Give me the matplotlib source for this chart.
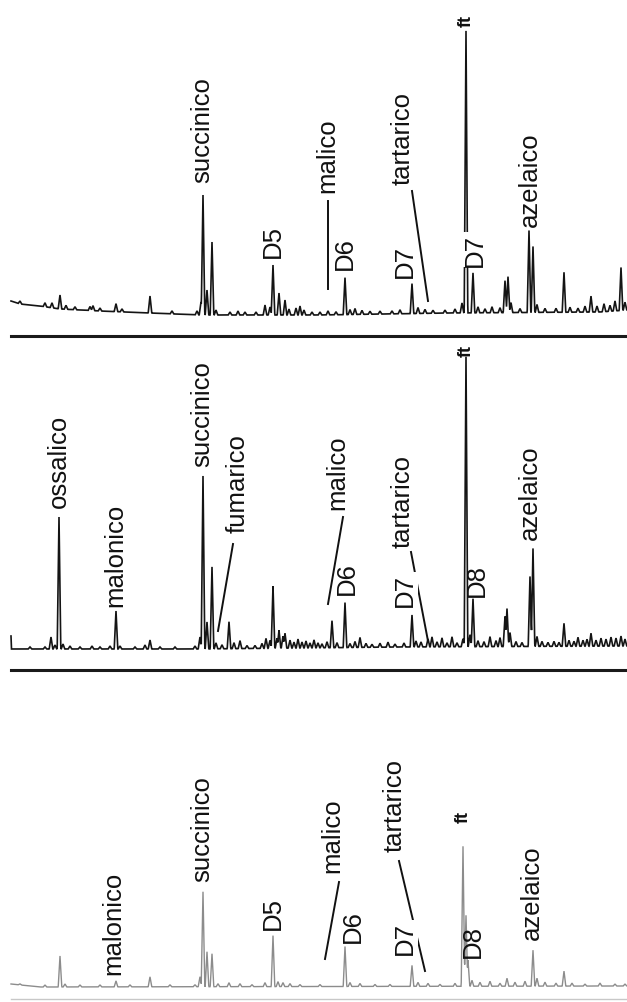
"""Three stacked GC traces (dicarboxylic acids), labels rotated like the original scan."""
import numpy as np
import matplotlib; matplotlib.use("Agg")
import matplotlib.pyplot as plt

plt.rcParams["font.family"] = ["Liberation Sans", "DejaVu Sans"]

# ---- data: peak position (scan) and peak height (intensity, a.u.) ----
top_pos = [20, 45, 52, 60, 66, 75, 90, 93, 100, 116, 122, 150, 172, 197, 201, 203, 207, 212, 216,
           230, 238, 245, 256, 265, 270, 273, 279, 285, 289, 296, 300, 304, 312, 320, 328, 336,
           345, 350, 355, 362, 370, 380, 392, 400, 412, 418, 425, 433, 445, 455, 462, 466, 473,
           478, 485, 492, 500, 505, 508, 511, 520, 529, 533, 537, 545, 556, 564, 570, 578,
           585, 591, 597, 604, 610, 615, 621, 625]
top_int = [3, 4, 5, 14, 4, 3, 4, 5, 3, 8, 3, 17, 3, 4, 13, 120, 25, 73, 5,
           3, 4, 3, 3, 10, 8, 50, 22, 15, 6, 7, 9, 5, 3, 3, 4, 3,
           37, 5, 6, 4, 3, 3, 3, 4, 30, 6, 4, 3, 3, 4, 10, 282, 40,
           6, 4, 6, 5, 32, 36, 10, 4, 82, 66, 8, 4, 4, 40, 5, 4,
           6, 16, 6, 8, 6, 10, 43, 8]
top_base_x = [11, 20, 40, 60, 100, 150, 200, 320, 450, 600, 627]
top_base_y = [13, 10, 8, 5, 3, 1, -1, -1, 1, 2, 4]

mid_pos = [30, 45, 51, 55, 59, 63, 70, 80, 92, 100, 110, 116, 120, 135, 145, 150, 160, 175, 195,
           200, 203, 207, 212, 216, 222, 229, 234, 240, 247, 255, 262, 266, 270, 273, 277, 279,
           283, 285, 290, 294, 298, 302, 306, 310, 314, 318, 322, 327, 332, 337, 345, 350, 355,
           360, 366, 372, 380, 388, 395, 404, 412, 416, 421, 428, 432, 437, 442, 447, 452, 457,
           463, 466, 470, 473, 478, 484, 490, 496, 500, 505, 507, 510, 516, 522, 530, 533, 537,
           542, 548, 554, 559, 564, 569, 574, 578, 583, 587, 591, 596, 601, 606, 611, 616, 621, 625]
mid_int = [2, 2, 12, 4, 132, 5, 3, 2, 3, 2, 3, 38, 3, 2, 4, 9, 2, 2, 3,
           12, 173, 27, 82, 6, 4, 27, 6, 8, 3, 3, 5, 10, 8, 62, 10, 18,
           12, 15, 8, 6, 9, 6, 7, 5, 8, 5, 4, 6, 27, 5, 45, 4, 6,
           10, 4, 3, 4, 5, 3, 4, 32, 6, 5, 8, 10, 5, 9, 4, 10, 4,
           8, 290, 12, 48, 6, 5, 10, 6, 9, 30, 38, 14, 5, 4, 70, 98, 10,
           5, 4, 5, 4, 23, 6, 5, 9, 6, 7, 13, 6, 8, 7, 9, 8, 10, 7]
mid_base_x = [11, 11.5, 200, 400, 627]
mid_base_y = [13, 0, 0, 2, 3]

bot_pos = [20, 45, 60, 65, 80, 100, 116, 130, 150, 170, 195, 200, 203, 207, 212, 218, 229, 240,
           252, 265, 273, 278, 283, 290, 300, 320, 345, 350, 360, 375, 390, 412, 418, 428, 440,
           455, 463, 466, 468, 472, 480, 490, 500, 507, 515, 525, 533, 537, 545, 556, 564, 572,
           585, 600, 615, 625]
bot_int = [1, 2, 31, 3, 2, 2, 6, 2, 10, 2, 2, 10, 95, 35, 33, 3, 4, 3,
           2, 4, 51, 5, 4, 3, 2, 2, 40, 4, 3, 2, 2, 21, 4, 3, 2,
           3, 140, 71, 26, 6, 4, 5, 3, 8, 4, 5, 36, 8, 4, 3, 15, 3,
           2, 3, 2, 2]
bot_base_x = [11, 40, 627]
bot_base_y = [3, 0, 1]

# labels: (text, scan, intensity at label end); leaders: (x0, y0, x1, y1)
top_labels = [("succinico", 202, 132), ("D5", 273, 57), ("malico", 327, 122), ("D6", 345, 45),
              ("tartarico", 403, 130), ("D7", 405, 37), ("ft", 466, 288), ("D7", 475, 48),
              ("azelaico", 530, 88)]
top_leaders = [(328, 113, 328, 25), (412, 123, 428, 13)]
mid_labels = [("ossalico", 59, 142), ("malonico", 115, 43), ("succinico", 202, 183),
              ("fumarico", 238, 117), ("malico", 337, 140), ("D6", 347, 55),
              ("tartarico", 403, 102), ("D7", 405, 43), ("ft", 466, 293), ("D8", 477, 53),
              ("azelaico", 530, 110)]
mid_leaders = [(233, 105, 218, 18), (343, 132, 328, 45), (411, 97, 428, 8)]
bot_labels = [("malonico", 113, 13), ("succinico", 202, 106), ("D5", 273, 58), ("malico", 332, 115),
              ("D6", 353, 45), ("tartarico", 395, 136), ("D7", 405, 33), ("ft", 463, 165),
              ("D8", 473, 30), ("azelaico", 532, 48)]
bot_leaders = [(339, 105, 325, 28), (399, 126, 425, 16)]


def trace(pos, inten, bx, by):
    x = np.arange(11, 627.01, 0.25)
    y = np.interp(x, bx, by)
    spikes = np.zeros_like(x)
    for p, h in zip(pos, inten):
        spikes = np.maximum(spikes, h * np.clip(1 - np.abs(x - p) / 1.8, 0, None))
    return x, y + spikes


def panel(rect, ylim, pos, inten, bx, by, labels, leaders, col, lw):
    ax = fig.add_axes(rect)
    ax.set_xlim(0, 627); ax.set_ylim(*ylim); ax.axis("off")
    x, y = trace(pos, inten, bx, by)
    ax.plot(x, y, color=col, lw=lw, solid_joinstyle="miter")
    for x0, y0, x1, y1 in leaders:
        ax.plot([x0, x1], [y0, y1], color="#111111", lw=1.4)
    for t, lx, ly in labels:
        kw = dict(fontsize=13, fontweight="bold") if t == "ft" else dict(fontsize=18.5)
        bb = dict(facecolor="white", edgecolor="none", pad=0.3) if t == "D7" else None
        ax.text(lx, ly, t, rotation=90, ha="center", va="bottom", color="#111111",
                bbox=bb, zorder=5, **kw)
    return ax


fig = plt.figure(figsize=(6.27, 10.03), dpi=100)
H = 1003
a1 = panel([0, (H - 337) / H, 1, 337 / H], (-22, 315), top_pos, top_int, top_base_x, top_base_y,
           top_labels, top_leaders, "#141414", 1.2)
a2 = panel([0, (H - 671) / H, 1, 334 / H], (-21, 313), mid_pos, mid_int, mid_base_x, mid_base_y,
           mid_labels, mid_leaders, "#141414", 1.2)
a3 = panel([0, 0, 1, 332 / H], (-15, 317), bot_pos, bot_int, bot_base_x, bot_base_y,
           bot_labels, bot_leaders, "#8c8c8c", 1.0)
for ax in (a1, a2):
    ax.axhline(ax.get_ylim()[0], xmin=11 / 627, color="#1a1a1a", lw=2.2, clip_on=False)
a3.axhline(-12, xmin=11 / 627, color="#c8c8c8", lw=1.0, clip_on=False)

fig.savefig("out.png", dpi=100)
